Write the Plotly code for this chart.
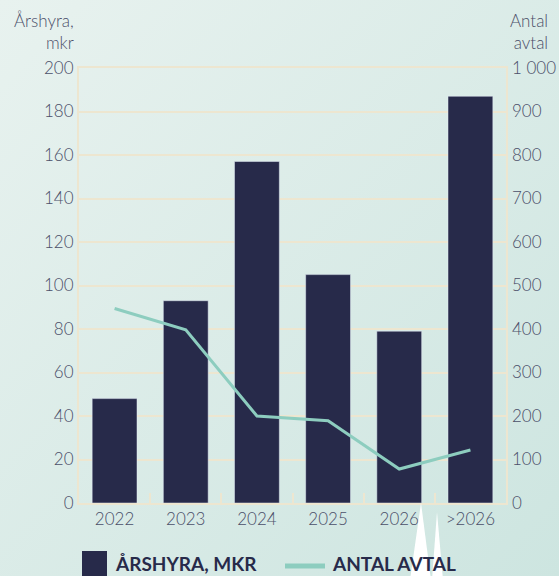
import plotly.graph_objects as go
import base64

categories = ["2022", "2023", "2024", "2025", "2026", ">2026"]
arshyra_mkr = [48, 93, 157, 105, 79, 187]
antal_avtal = [447, 398, 200, 189, 78, 122]
left_ticks = [0, 20, 40, 60, 80, 100, 120, 140, 160, 180, 200]
right_ticks = [0, 100, 200, 300, 400, 500, 600, 700, 800, 900, 1000]
right_tick_text = ["0", "100", "200", "300", "400", "500", "600", "700", "800", "900", "1 000"]

BAR = "#272a4a"
LINE = "#8dcdbf"
TXT = "#4b4f69"
GRID = "#ede6d0"
FONT = "Lato"

W, H = 559, 576
L, R, T, B = 79, 53, 68, 73
PW, PH = W - L - R, H - T - B


def px(x):
    return (x - L) / PW


def py(y):
    return (H - B - y) / PH


svg = ('<svg xmlns="http://www.w3.org/2000/svg" width="559" height="576">'
       '<defs><linearGradient id="g" x1="0" y1="0" x2="1" y2="1">'
       '<stop offset="0" stop-color="#e8f2ef"/><stop offset="1" stop-color="#cde5e0"/>'
       '</linearGradient></defs><rect width="559" height="576" fill="url(#g)"/></svg>')
bg = "data:image/svg+xml;base64," + base64.b64encode(svg.encode()).decode()

fig = go.Figure()
fig.add_trace(go.Bar(x=categories, y=arshyra_mkr, marker_color=BAR, width=0.63,
                     name="ÅRSHYRA, MKR", yaxis="y"))
fig.add_trace(go.Scatter(x=categories, y=antal_avtal, mode="lines",
                         line=dict(color=LINE, width=3), name="ANTAL AVTAL", yaxis="y2"))

fig.update_layout(
    width=W, height=H,
    margin=dict(l=L, r=R, t=T, b=B),
    paper_bgcolor="#dcece8", plot_bgcolor="rgba(0,0,0,0)",
    showlegend=False,
    font=dict(family=FONT, color=TXT, size=17),
    images=[dict(source=bg, xref="paper", yref="paper", x=px(0), y=py(0),
                 sizex=W / PW, sizey=H / PH, sizing="stretch", layer="below",
                 xanchor="left", yanchor="top")],
    xaxis=dict(type="category", showline=True, linecolor=GRID, linewidth=2, mirror=True,
               ticks="inside", tickson="boundaries", ticklen=10, tickcolor=GRID, tickwidth=2,
               showgrid=False, automargin=False, tickfont=dict(size=17, color=TXT, weight=300)),
    yaxis=dict(range=[0, 200], tickvals=left_ticks, showgrid=True, gridcolor=GRID, gridwidth=2,
               showline=True, linecolor=GRID, linewidth=2, mirror=True, zeroline=False, ticks="",
               automargin=False, tickfont=dict(size=17, color=TXT, weight=300)),
    yaxis2=dict(range=[0, 1000], tickvals=right_ticks, ticktext=right_tick_text, overlaying="y",
                side="right", showgrid=False, zeroline=False, showline=False, ticks="",
                ticklabelstandoff=5, automargin=False,
                tickfont=dict(size=17, color=TXT, weight=300)),
    bargap=0.37,
)

fig.add_annotation(text="Årshyra,<br>mkr", xref="paper", yref="paper", x=px(76), y=py(8),
                   xanchor="right", yanchor="top", showarrow=False, align="right",
                   font=dict(size=17, color=TXT, weight=300))
fig.add_annotation(text="Antal<br>avtal", xref="paper", yref="paper", x=px(550), y=py(8),
                   xanchor="right", yanchor="top", showarrow=False, align="right",
                   font=dict(size=17, color=TXT, weight=300))

# legend
fig.add_shape(type="rect", xref="paper", yref="paper", x0=px(82), x1=px(107),
              y0=py(580), y1=py(551), fillcolor=BAR, line_width=0)
fig.add_annotation(text="<b>ÅRSHYRA, MKR</b>", xref="paper", yref="paper", x=px(113), y=py(563),
                   xanchor="left", yanchor="middle", showarrow=False,
                   font=dict(size=19, color=BAR))
fig.add_shape(type="line", xref="paper", yref="paper", x0=px(285), x1=px(325),
              y0=py(566), y1=py(566), line=dict(color=LINE, width=5))
fig.add_annotation(text="<b>ANTAL AVTAL</b>", xref="paper", yref="paper", x=px(330), y=py(563),
                   xanchor="left", yanchor="middle", showarrow=False,
                   font=dict(size=19, color=BAR))

# white decorative spikes below the axis
for d in ["M {} {} L {} {} L {} {} Z".format(px(421), py(503), px(410), py(580), px(431), py(580)),
          "M {} {} L {} {} L {} {} Z".format(px(437), py(512), px(432), py(580), px(443), py(580))]:
    fig.add_shape(type="path", xref="paper", yref="paper", path=d,
                  fillcolor="white", line_width=0, layer="above")

fig.write_html("out.html", post_script="document.body.style.margin='0';",
               config={"displayModeBar": False})
